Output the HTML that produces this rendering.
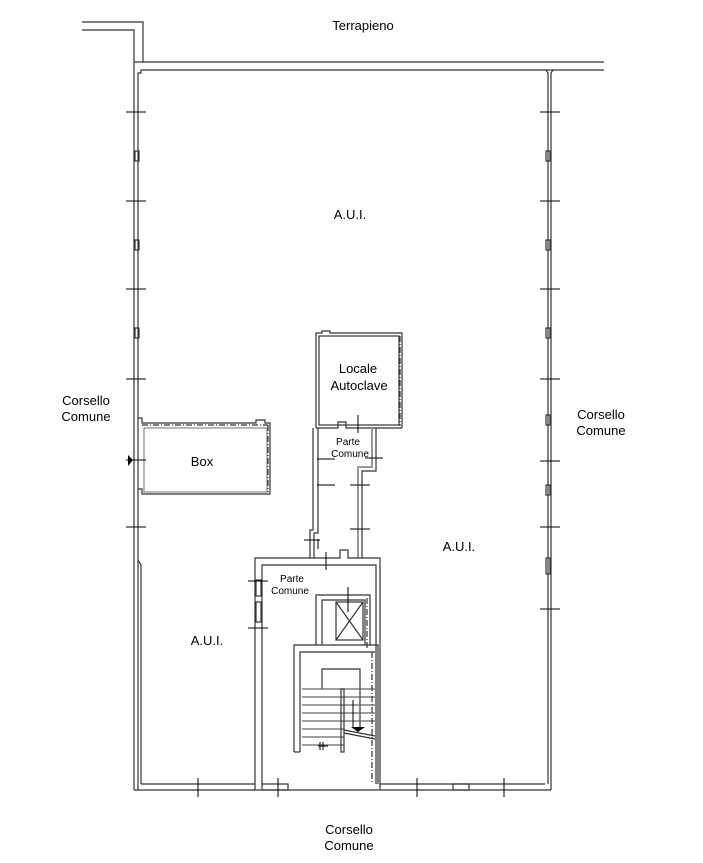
<!DOCTYPE html>
<html><head><meta charset="utf-8"><style>
html,body{margin:0;padding:0;background:#fff}
svg{display:block}
text{font-family:"Liberation Sans",Arial,sans-serif;fill:#000}
</style></head><body>
<svg width="703" height="863" viewBox="0 0 703 863" xmlns="http://www.w3.org/2000/svg">
<g fill="none" stroke="#333" stroke-width="1.2">
<!-- top-left terrapieno walls -->
<polyline points="82,22 143,22 143,62"/>
<polyline points="82,30 134,30 134,790"/>
<line x1="134" y1="62" x2="604" y2="62"/>
<polyline points="138,790 138,73 141,73 141,70 604,70"/>
<!-- right wall -->
<polyline points="546,70 548,73 548,784"/>
<polyline points="551,73 553,70"/>
<line x1="551" y1="73" x2="551" y2="790"/>
<!-- bottom -->
<line x1="134" y1="790" x2="551" y2="790"/>
<polyline points="141,784 141,565 138,560"/>
<line x1="141" y1="784" x2="255" y2="784"/>
<line x1="380" y1="784" x2="545" y2="784"/>
<rect x="453" y="784" width="16" height="6"/>
<rect x="262" y="784" width="26" height="6"/>
<!-- left wall small rects -->
<rect x="135" y="151" width="4" height="10"/><rect x="135" y="240" width="4" height="10"/><rect x="135" y="328" width="4" height="10"/>
<!-- right wall small rects -->
<rect x="546" y="151" width="4" height="10"/><rect x="546" y="240" width="4" height="10"/><rect x="546" y="328" width="4" height="10"/>
<rect x="546" y="415" width="4" height="10"/><rect x="546" y="485" width="4" height="10"/><rect x="546" y="558" width="4" height="16"/>
<!-- Box -->
<polyline points="138,418 142,418 142,423 256,423 256,420 265,420 265,423 270,423 270,494 142,494 142,489 138,489"/>
<rect x="144" y="428" width="123" height="64" stroke="#888"/>
<line x1="142" y1="425" x2="268" y2="425" stroke-dasharray="6,2,1,2"/>
<line x1="268" y1="425" x2="268" y2="492" stroke-dasharray="6,2,1,2"/>
<!-- Locale Autoclave -->
<polyline points="316,428 316,333 322,333 322,331 330,331 330,333 402,333 402,428"/>
<rect x="319" y="336" width="80" height="89"/>
<line x1="400" y1="336" x2="400" y2="426" stroke-dasharray="6,2,1,2"/>
<!-- corridor -->
<polyline points="316,428 338,428 338,422 346,422 346,428 402,428"/>
<polyline points="313,428 313,530 310,530 310,558"/>
<polyline points="318,428 318,533 314,533 314,558"/>
<polyline points="376,428 376,471 362,471 362,558"/>
<polyline points="372,428 372,467 358,467 358,558" stroke="#999" stroke-width="2"/>
<!-- core -->
<polyline points="255,790 255,558 340,558 340,550 348,550 348,558 380,558 380,790"/>
<polyline points="262,784 262,565 376,565 376,784"/>
<rect x="256" y="580" width="5" height="16"/><rect x="256" y="602" width="5" height="20"/>
<!-- lift -->
<polyline points="316,645 316,595 370,595 370,645"/>
<polyline points="322,645 322,600 365,600 365,645"/>
<rect x="336" y="602" width="27" height="38"/>
<line x1="336" y1="602" x2="363" y2="640"/><line x1="363" y1="602" x2="336" y2="640"/>
<line x1="367" y1="598" x2="367" y2="648" stroke-dasharray="6,2,1,2"/>
<!-- stair -->
<polyline points="294,752 294,645 378,645 378,784"/>
<polyline points="300,752 300,652 375,652"/>
<line x1="294" y1="752" x2="300" y2="752"/>
<polyline points="322,689 322,669 360,669 360,728"/>
<g stroke="#666">
<line x1="302" y1="689" x2="375" y2="689"/><line x1="302" y1="697" x2="375" y2="697"/>
<line x1="302" y1="705" x2="375" y2="705"/><line x1="302" y1="713" x2="375" y2="713"/>
<line x1="302" y1="721" x2="375" y2="721"/><line x1="302" y1="729" x2="344" y2="729"/>
<line x1="302" y1="737" x2="344" y2="737"/><line x1="302" y1="745" x2="344" y2="745"/>
</g>
<rect x="341" y="689" width="3" height="63"/>
<polyline points="344,730 375,736"/><polyline points="344,733 375,739"/>
<line x1="372" y1="652" x2="372" y2="784" stroke-dasharray="6,2,1,2"/>
<!-- ticks -->
<g stroke="#000" stroke-width="1">
<line x1="126" y1="112" x2="146" y2="112"/><line x1="126" y1="201" x2="146" y2="201"/><line x1="126" y1="289" x2="146" y2="289"/>
<line x1="126" y1="379" x2="146" y2="379"/><line x1="126" y1="460" x2="146" y2="460"/><line x1="126" y1="527" x2="146" y2="527"/>
<line x1="540" y1="112" x2="560" y2="112"/><line x1="540" y1="201" x2="560" y2="201"/><line x1="540" y1="289" x2="560" y2="289"/>
<line x1="540" y1="379" x2="560" y2="379"/><line x1="540" y1="461" x2="560" y2="461"/><line x1="540" y1="527" x2="560" y2="527"/>
<line x1="540" y1="609" x2="560" y2="609"/>
<line x1="198" y1="778" x2="198" y2="797"/><line x1="278" y1="778" x2="278" y2="797"/>
<line x1="417" y1="778" x2="417" y2="797"/><line x1="504" y1="778" x2="504" y2="797"/>
<line x1="248" y1="581" x2="268" y2="581"/><line x1="248" y1="628" x2="268" y2="628"/>
<line x1="318" y1="539" x2="318" y2="549"/><line x1="304" y1="540" x2="320" y2="540"/>
<line x1="326" y1="552" x2="326" y2="570"/>
<line x1="317" y1="459" x2="335" y2="459"/><line x1="317" y1="485" x2="335" y2="485"/>
<line x1="350" y1="485" x2="370" y2="485"/><line x1="350" y1="529" x2="370" y2="529"/>
<line x1="365" y1="458" x2="383" y2="458"/>
<line x1="358" y1="415" x2="358" y2="433"/>
<line x1="348" y1="587" x2="348" y2="612"/>
<line x1="353" y1="700" x2="353" y2="728"/>
<line x1="320" y1="742" x2="320" y2="750"/><line x1="323" y1="742" x2="323" y2="750"/><line x1="318" y1="746" x2="328" y2="746"/>
</g>
</g>
<polygon points="128,455 133,460 128,466" fill="#000"/>
<polygon points="351,727 365,727 358,732" fill="#000"/>
<text x="363" y="30" font-size="13" text-anchor="middle">Terrapieno</text>
<text x="350" y="219" font-size="13" text-anchor="middle">A.U.I.</text>
<text x="358" y="373" font-size="13" text-anchor="middle">Locale</text>
<text x="359" y="390" font-size="13" text-anchor="middle">Autoclave</text>
<text x="348" y="445" font-size="10" text-anchor="middle" fill="#333">Parte</text>
<text x="350" y="457" font-size="10" text-anchor="middle" fill="#333">Comune</text>
<text x="202" y="466" font-size="13" text-anchor="middle">Box</text>
<text x="459" y="551" font-size="13" text-anchor="middle">A.U.I.</text>
<text x="292" y="582" font-size="10" text-anchor="middle" fill="#333">Parte</text>
<text x="290" y="594" font-size="10" text-anchor="middle" fill="#333">Comune</text>
<text x="207" y="645" font-size="13" text-anchor="middle">A.U.I.</text>
<text x="86" y="405" font-size="13" text-anchor="middle">Corsello</text>
<text x="86" y="421" font-size="13" text-anchor="middle">Comune</text>
<text x="601" y="419" font-size="13" text-anchor="middle">Corsello</text>
<text x="601" y="435" font-size="13" text-anchor="middle">Comune</text>
<text x="349" y="834" font-size="13" text-anchor="middle">Corsello</text>
<text x="349" y="850" font-size="13" text-anchor="middle">Comune</text>
</svg>
</body></html>
